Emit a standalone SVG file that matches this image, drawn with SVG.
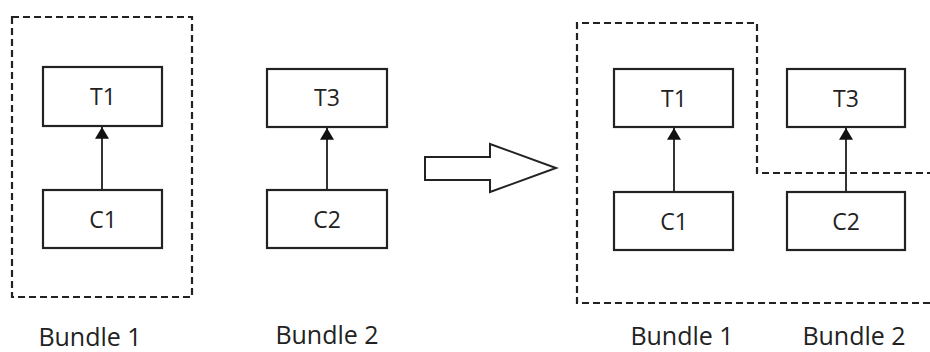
<svg xmlns="http://www.w3.org/2000/svg" width="930" height="352" viewBox="0 0 930 352">
<defs>
<style>
.box{fill:#fff;stroke:#222;stroke-width:2.2}
.dash{fill:none;stroke:#222;stroke-width:2.2;stroke-dasharray:7 4}
.lbl{font-family:"Open Sans","Liberation Sans",sans-serif;font-size:23px;fill:#222;text-anchor:middle}
.cap{font-family:"Open Sans","Liberation Sans",sans-serif;font-size:25px;fill:#222;text-anchor:middle}
.edge{stroke:#333;stroke-width:2;fill:none;marker-end:url(#ah)}
</style>
<marker id="ah" viewBox="0 0 10 12" refX="10" refY="6" markerWidth="6" markerHeight="7" markerUnits="strokeWidth" orient="auto">
<path d="M0,0 L10,6 L0,12 z" fill="#111"/>
</marker>
</defs>
<rect width="930" height="352" fill="#fff"/>
<g id="bundles">
<rect class="dash" x="12" y="17" width="180" height="280"/>
<path class="dash" d="M930,303 L577,303 L577,23 L757,23 L757,173 L930,173"/>
</g>
<g id="transform-arrow">
<path d="M425,157 L490,157 L490,144 L556,168 L490,192 L490,180 L425,180 Z" fill="#fff" stroke="#222" stroke-width="2"/>
</g>
<g id="connectors">
<line class="edge" x1="102" y1="190" x2="102" y2="127"/>
<line class="edge" x1="327" y1="190" x2="327" y2="128"/>
<line class="edge" x1="674" y1="192" x2="674" y2="128"/>
<line class="edge" x1="846" y1="192" x2="846" y2="128"/>
</g>
<g id="L-T1"><rect class="box" x="43" y="67" width="119" height="59"/><text class="lbl" x="103" y="105">T1</text></g>
<g id="L-C1"><rect class="box" x="43" y="190" width="119" height="58"/><text class="lbl" x="103" y="228">C1</text></g>
<g id="L-T3"><rect class="box" x="267" y="69" width="120" height="58"/><text class="lbl" x="327" y="106">T3</text></g>
<g id="L-C2"><rect class="box" x="267" y="190" width="120" height="58"/><text class="lbl" x="327" y="228">C2</text></g>
<g id="R-T1"><rect class="box" x="614" y="69" width="119" height="58"/><text class="lbl" x="674" y="107">T1</text></g>
<g id="R-C1"><rect class="box" x="614" y="192" width="119" height="58"/><text class="lbl" x="674" y="230">C1</text></g>
<g id="R-T3"><rect class="box" x="787" y="69" width="118" height="58"/><text class="lbl" x="846" y="107">T3</text></g>
<g id="R-C2"><rect class="box" x="787" y="192" width="118" height="58"/><text class="lbl" x="846" y="230">C2</text></g>
<g id="captions">
<text class="cap" x="90" y="346">Bundle 1</text>
<text class="cap" x="327" y="344">Bundle 2</text>
<text class="cap" x="682" y="345">Bundle 1</text>
<text class="cap" x="854" y="345">Bundle 2</text>
</g>
</svg>
